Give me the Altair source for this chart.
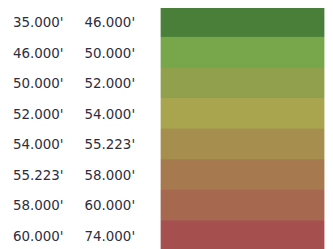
import altair as alt
import pandas as pd

lo = ["35.000'", "46.000'", "50.000'", "52.000'", "54.000'", "55.223'", "58.000'", "60.000'"]
hi = ["46.000'", "50.000'", "52.000'", "54.000'", "55.223'", "58.000'", "60.000'", "74.000'"]
colors = ["#4a7f3a", "#78a64a", "#90a04c", "#a8a54e", "#a68f4e", "#a67a4e", "#a6684f", "#a64f4f"]

df = pd.DataFrame({"row": list(range(len(lo))), "lo": lo, "hi": hi, "color": colors})

H = 246
yenc = alt.Y("row:O", axis=None, scale=alt.Scale(paddingInner=0, paddingOuter=0))
font = "Liberation Sans Narrow, DejaVu Sans Condensed, sans-serif"

col1 = alt.Chart(df).mark_text(align="left", baseline="middle", font=font, fontSize=15, color="#2e2e40").encode(
    y=yenc, x=alt.value(5), text="lo:N"
).properties(width=64, height=H)

col2 = alt.Chart(df).mark_text(align="left", baseline="middle", font=font, fontSize=15, color="#2e2e40").encode(
    y=yenc, x=alt.value(13), text="hi:N"
).properties(width=89, height=H)

col3 = alt.Chart(df).mark_rect(strokeWidth=0.8).encode(
    y=yenc,
    color=alt.Color("color:N", scale=None),
    stroke=alt.Stroke("color:N", scale=None),
).properties(width=164, height=H)

chart = alt.hconcat(col1, col2, col3, spacing=0).properties(
    padding={"left": 0, "top": -3, "right": 0, "bottom": 0}
).configure_view(stroke=None)

chart.save("out.html", embed_options={"renderer": "svg", "actions": False})
